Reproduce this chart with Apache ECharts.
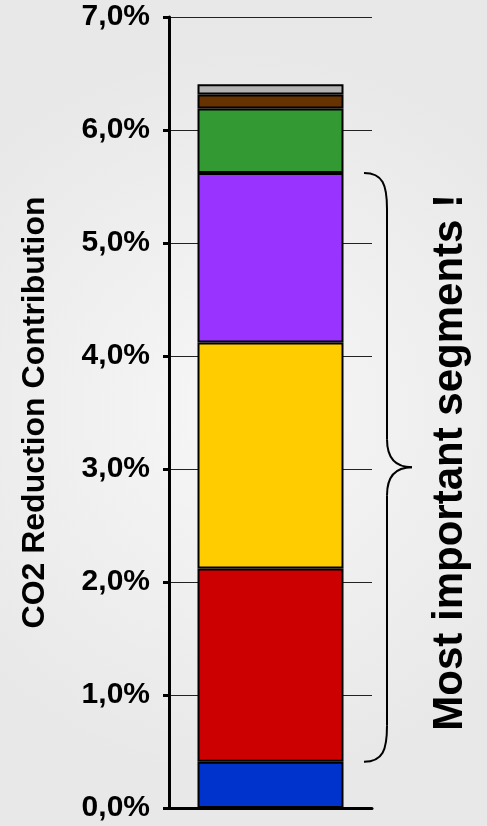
<!DOCTYPE html>
<html>
<head>
<meta charset="utf-8">
<script src="https://cdn.jsdelivr.net/npm/echarts@6/dist/echarts.min.js"></script>
<style>
  html, body { margin: 0; padding: 0; }
  #chart { width: 487px; height: 826px; }
</style>
</head>
<body>
<div id="chart"></div>
<script>
// data (percent)
var categories = ['Total'];
var segNames = ['Segment 1', 'Segment 2', 'Segment 3', 'Segment 4', 'Segment 5', 'Segment 6', 'Segment 7'];
var segValues = [0.41, 1.71, 2.0, 1.5, 0.57, 0.125, 0.09];
var segColors = ['#0033cc', '#cc0000', '#ffcc00', '#9933ff', '#339933', '#663300', '#b3b3b3'];
var yTicks = [0, 1, 2, 3, 4, 5, 6, 7];
var braceFrom = 1; // first segment inside the brace
var braceTo = 3;   // last segment inside the brace

var font = "'Liberation Sans', Arial, Helvetica, sans-serif";
var chart = echarts.init(document.getElementById('chart'));

var series = segValues.map(function (v, i) {
  return {
    name: segNames[i],
    type: 'bar',
    stack: 'co2',
    barWidth: 146,
    data: [v],
    itemStyle: { color: segColors[i], borderColor: '#000', borderWidth: 2 }
  };
});

var option = {
  backgroundColor: {
    type: 'radial', x: 0.5, y: 0.5, r: 0.75,
    colorStops: [{ offset: 0, color: '#f7f7f7' }, { offset: 1, color: '#e8e8e8' }]
  },
  animation: false,
  grid: { left: 169, right: 115, top: 17, bottom: 18 },
  xAxis: {
    type: 'category',
    data: categories,
    axisLine: { lineStyle: { color: '#000', width: 3 } },
    axisTick: { show: false },
    axisLabel: { show: false }
  },
  yAxis: {
    type: 'value',
    min: yTicks[0],
    max: yTicks[yTicks.length - 1],
    interval: 1,
    name: 'CO2 Reduction Contribution',
    nameLocation: 'middle',
    nameRotate: 90,
    nameGap: 118,
    nameTextStyle: { color: '#000', fontSize: 32, fontWeight: 'bold', fontFamily: font },
    axisLine: { show: true, lineStyle: { color: '#000', width: 3 } },
    axisTick: { show: true, length: 6, lineStyle: { color: '#000', width: 3 } },
    axisLabel: {
      margin: 19,
      color: '#000',
      fontSize: 30,
      fontWeight: 'bold',
      fontFamily: font,
      formatter: function (v) { return v.toFixed(1).replace('.', ',') + '%'; }
    },
    splitLine: { show: true, lineStyle: { color: '#222', width: 1 } }
  },
  series: series
};
chart.setOption(option);

// brace around the most important segments, placed from the data
var lo = 0, hi = 0, acc = 0;
segValues.forEach(function (v, i) {
  if (i === braceFrom) lo = acc;
  acc += v;
  if (i === braceTo) hi = acc;
});
var yTop = chart.convertToPixel({ yAxisIndex: 0 }, hi);
var yBot = chart.convertToPixel({ yAxisIndex: 0 }, lo);
var yMid = (yTop + yBot) / 2;
var x0 = 364, x1 = 387, x2 = 412;
var braceStyle = { stroke: '#000', lineWidth: 2, fill: null };

function curve(ax, ay, c1x, c1y, c2x, c2y, bx, by) {
  return {
    type: 'bezierCurve',
    shape: { x1: ax, y1: ay, cpx1: c1x, cpy1: c1y, cpx2: c2x, cpy2: c2y, x2: bx, y2: by },
    style: braceStyle
  };
}
function seg(ax, ay, bx, by) {
  return { type: 'line', shape: { x1: ax, y1: ay, x2: bx, y2: by }, style: braceStyle };
}

chart.setOption({
  graphic: [
    curve(x0, yTop, x1 - 4, yTop, x1, yTop + 12, x1, yTop + 36),
    seg(x1, yTop + 36, x1, yMid - 28),
    curve(x1, yMid - 28, x1, yMid - 10, x1 + 8, yMid, x2, yMid),
    curve(x2, yMid, x1 + 8, yMid, x1, yMid + 10, x1, yMid + 28),
    seg(x1, yMid + 28, x1, yBot - 36),
    curve(x1, yBot - 36, x1, yBot - 12, x1 - 4, yBot, x0, yBot),
    {
      type: 'text',
      x: 450,
      y: yMid - 5,
      rotation: Math.PI / 2,
      style: {
        text: 'Most important segments !',
        fill: '#000',
        font: 'bold 42px ' + font,
        textAlign: 'center',
        textVerticalAlign: 'middle'
      }
    }
  ]
});
</script>
</body>
</html>
